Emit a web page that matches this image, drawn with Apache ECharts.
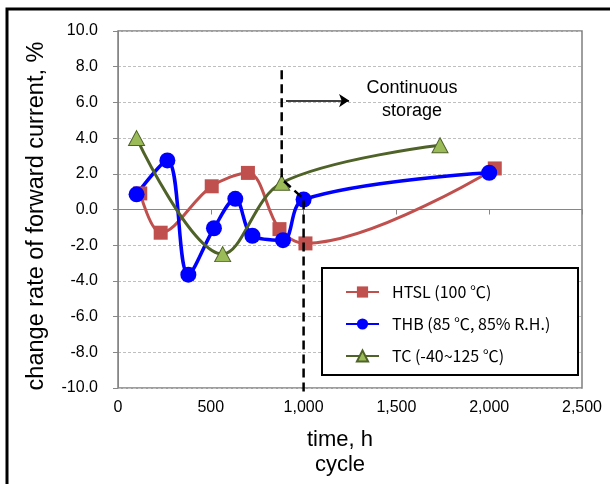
<!DOCTYPE html>
<html>
<head>
<meta charset="utf-8">
<script src="https://cdn.jsdelivr.net/npm/echarts@6/dist/echarts.min.js"></script>
<style>
  html, body { margin: 0; padding: 0; background: #fff; }
  #main { width: 610px; height: 484px; }
</style>
</head>
<body>
<div id="main"></div>
<script>
var htslX = [120, 230, 505, 700, 870, 1010, 2030];
var htslY = [0.9, -1.3, 1.3, 2.05, -1.1, -1.9, 2.3];
var thbX = [100, 266, 379, 517, 632, 724, 889, 1000, 2000];
var thbY = [0.85, 2.75, -3.65, -1.05, 0.6, -1.47, -1.72, 0.56, 2.06];
var tcX = [100, 564, 882, 1735];
var tcY = [4.0, -2.5, 1.5, 3.6];
var dashX = [882, 882, 1000, 1000];
var dashY = [7.8, 1.7, 0.6, -10.4];
var arrowX = [905, 1245];
var arrowY = [6.1, 6.1];
var names = ['HTSL (100 \u2103)', 'THB (85 \u2103, 85% R.H.)', 'TC (-40~125 \u2103)'];

function pairs(xs, ys) {
    return xs.map(function (x, i) { return [x, ys[i]]; });
}

var myChart = echarts.init(document.getElementById('main'));
var labelFont = 'Liberation Sans, Arial, sans-serif';
var option = {
    backgroundColor: '#fff',
    animation: false,
    grid: {
        left: 118, top: 31, width: 464, height: 357,
        show: true, borderColor: '#7f7f7f', borderWidth: 1.5
    },
    xAxis: {
        type: 'value', min: 0, max: 2500, interval: 500,
        axisLine: { show: true, lineStyle: { color: '#868686' } },
        axisTick: { show: true, inside: false, length: 5, lineStyle: { color: '#868686' } },
        splitLine: { show: false },
        axisLabel: {
            color: '#000', fontSize: 16, fontFamily: labelFont, margin: 12,
            formatter: function (v) { return v.toLocaleString('en-US'); }
        }
    },
    yAxis: {
        type: 'value', min: -10, max: 10, interval: 2,
        axisLine: { show: true, lineStyle: { color: '#868686' } },
        axisTick: { show: true, inside: false, length: 5, lineStyle: { color: '#868686' } },
        splitLine: { show: true, lineStyle: { color: '#bfbfbf', type: [3, 2] } },
        axisLabel: {
            color: '#000', fontSize: 16, fontFamily: labelFont, margin: 20,
            formatter: function (v) { return v.toFixed(1); }
        }
    },
    legend: {
        orient: 'vertical', left: 345, top: 283, z: 10, padding: 0,
        itemWidth: 33, itemHeight: 14, itemGap: 14,
        data: names,
        textStyle: {
            color: '#000', fontSize: 16, lineHeight: 18,
            fontFamily: 'Noto Sans CJK KR, Noto Sans, sans-serif',
            padding: [0, 0, 0, 8]
        }
    },
    graphic: [
        {
            type: 'rect', z: -1, silent: true,
            shape: { x: 7, y: 9, width: 700, height: 600 },
            style: { fill: null, stroke: '#000', lineWidth: 3 }
        },
        {
            type: 'rect', z: 5, silent: true,
            shape: { x: 322, y: 268, width: 256, height: 107 },
            style: { fill: '#fff', stroke: '#000', lineWidth: 2 }
        },
        {
            type: 'text', z: 5, silent: true,
            x: 412, y: 77,
            style: {
                text: 'Continuous\nstorage', fill: '#000', fontSize: 18,
                fontFamily: labelFont, align: 'center', lineHeight: 23
            }
        },
        {
            type: 'text', silent: true,
            x: 340, y: 427,
            style: {
                text: 'time, h\ncycle', fill: '#000', fontSize: 22,
                fontFamily: labelFont, align: 'center', lineHeight: 25
            }
        },
        {
            type: 'text', silent: true,
            x: 25, y: 216, rotation: Math.PI / 2,
            style: {
                text: 'change rate of forward current, %', fill: '#000', fontSize: 23.5,
                fontFamily: labelFont, align: 'center', verticalAlign: 'top'
            }
        }
    ],
    series: [
        {
            name: 'guide', type: 'line', data: pairs(dashX, dashY),
            symbol: 'none', clip: false, z: 4, silent: true,
            lineStyle: { color: '#000', width: 2.5, type: [9, 5] },
            markLine: {
                silent: true, symbol: ['none', 'arrow'], symbolSize: 10,
                label: { show: false },
                lineStyle: { color: '#000', width: 1.5, type: 'solid' },
                data: [[{ coord: [arrowX[0], arrowY[0]] }, { coord: [arrowX[1], arrowY[1]] }]]
            }
        },
        {
            name: names[0], type: 'line', data: pairs(htslX, htslY),
            smooth: 0.35, symbol: 'rect', symbolSize: 14,
            lineStyle: { color: '#c0504d', width: 3 },
            itemStyle: { color: '#c0504d' }
        },
        {
            name: names[1], type: 'line', data: pairs(thbX, thbY),
            smooth: 0.35, symbol: 'circle', symbolSize: 16,
            lineStyle: { color: '#0000ff', width: 3.5 },
            itemStyle: { color: '#0000ff' }
        },
        {
            name: names[2], type: 'line', data: pairs(tcX, tcY),
            smooth: 0.35, symbol: 'triangle', symbolSize: [16, 15],
            lineStyle: { color: '#4f6228', width: 3 },
            itemStyle: { color: '#9bbb59', borderColor: '#4f6228', borderWidth: 1 }
        }
    ]
};
myChart.setOption(option);
</script>
</body>
</html>
